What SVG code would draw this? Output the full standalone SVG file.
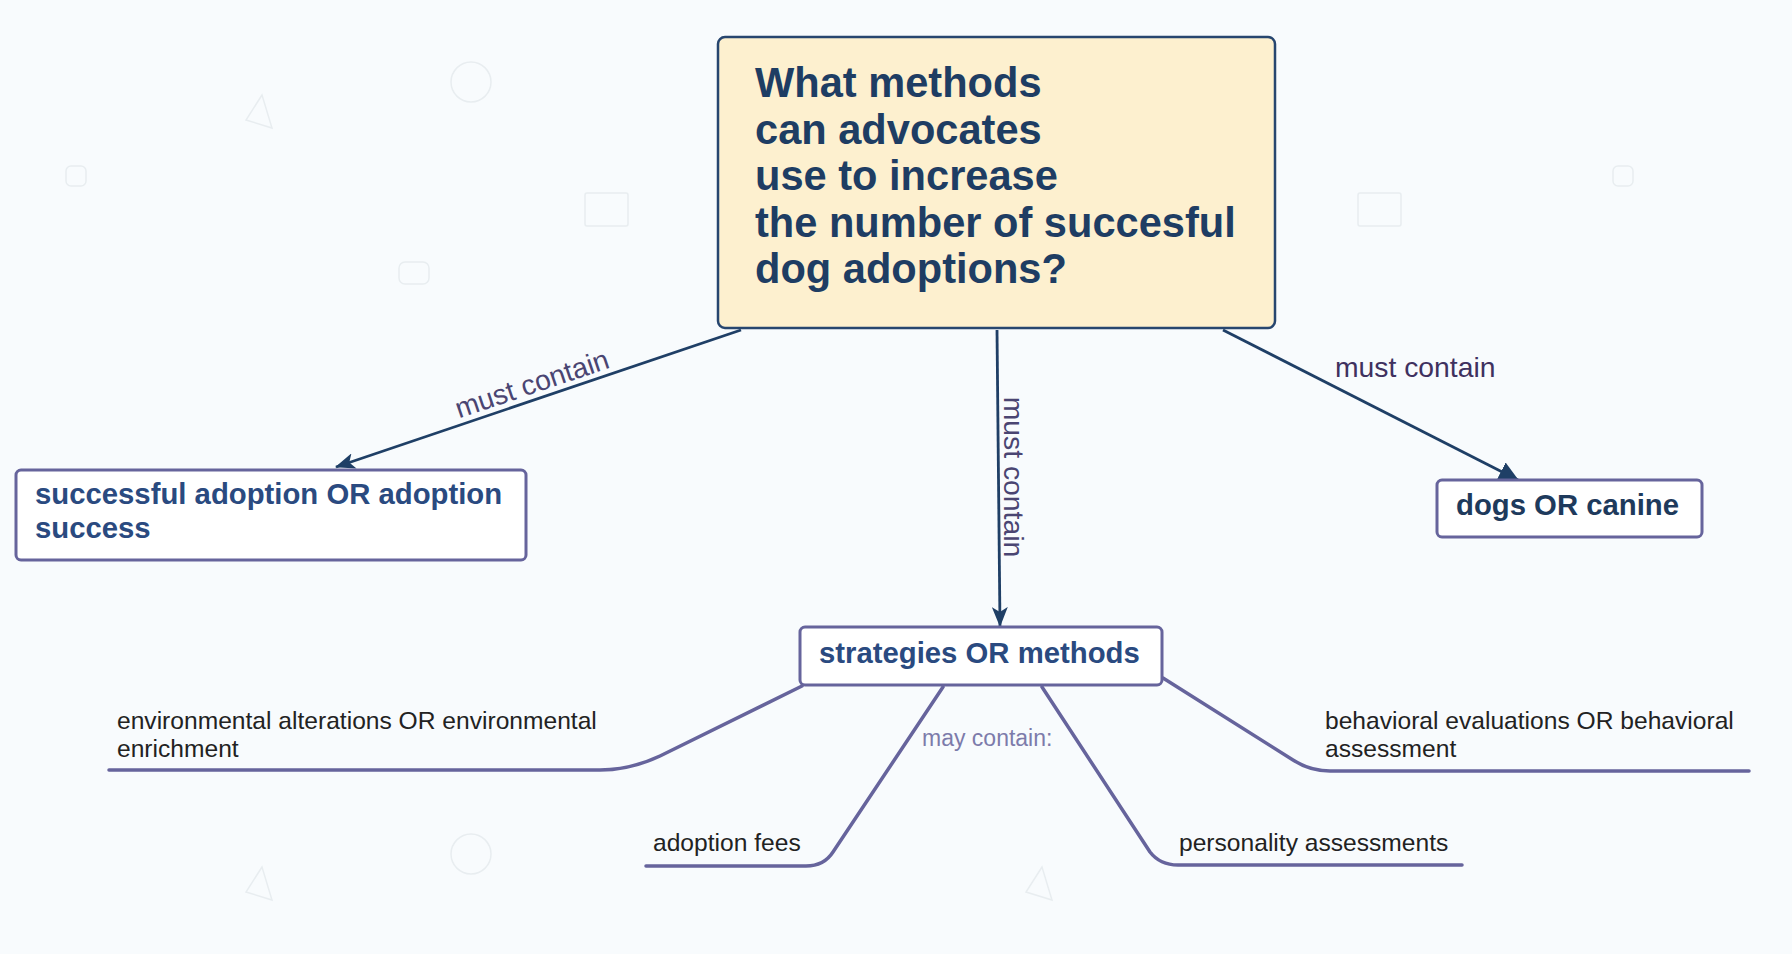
<svg xmlns="http://www.w3.org/2000/svg" width="1792" height="954" viewBox="0 0 1792 954">
<style>
.bg{fill:#f8fbfd}
.main{fill:#fdf0cf;stroke:#27466f;stroke-width:2.5}
.node{fill:#ffffff;stroke:#66649c;stroke-width:3}
.t-main{font-family:"Liberation Sans",Arial,sans-serif;font-weight:bold;font-size:41.6px;fill:#1e3d63}
.t-node{font-family:"Liberation Sans",Arial,sans-serif;font-weight:bold;font-size:29.3px;fill:#2a4a80}
.t-item{font-family:"Liberation Sans",Arial,sans-serif;font-size:24.6px;fill:#222222}
.t-lab{font-family:"Liberation Sans",Arial,sans-serif;font-size:28.3px;fill:#4a4572}
.t-may{font-family:"Liberation Sans",Arial,sans-serif;font-size:23px;fill:#7d7bab}
.edge{fill:none;stroke:#1f3f66;stroke-width:2.8}
.branch{fill:none;stroke:#66649c;stroke-width:3.5;stroke-linecap:round;stroke-linejoin:round}
.deco{fill:none;stroke:#e8edf0;stroke-width:1.5}
</style>
<defs>
<marker id="arr" viewBox="0 0 20 16" refX="19" refY="8" markerWidth="20" markerHeight="16" markerUnits="userSpaceOnUse" orient="auto">
<path d="M0,0 L20,8 L0,16 L5,8 Z" fill="#1f3f66"/>
</marker>
<marker id="tri" viewBox="0 0 20 20" refX="19" refY="10" markerWidth="20" markerHeight="20" markerUnits="userSpaceOnUse" orient="auto">
<path d="M0,0 L20,10 L0,20 Z" fill="#1f3f66"/>
</marker>
</defs>
<rect class="bg" x="0" y="0" width="1792" height="954"/>
<g id="background">
<circle class="deco" cx="471" cy="82" r="20"/>
<circle class="deco" cx="471" cy="854" r="20"/>
<rect class="deco" x="585" y="193" width="43" height="33" rx="2"/>
<rect class="deco" x="1358" y="193" width="43" height="33" rx="2"/>
<rect class="deco" x="399" y="262" width="30" height="22" rx="6"/>
<rect class="deco" x="66" y="166" width="20" height="20" rx="5"/>
<rect class="deco" x="1613" y="166" width="20" height="20" rx="5"/>
<path class="deco" d="M262,95 L246,120 L272,128 Z"/>
<path class="deco" d="M262,867 L246,892 L272,900 Z"/>
<path class="deco" d="M1042,867 L1026,892 L1052,900 Z"/>
</g>
<g id="connectors">
<line class="edge" x1="741" y1="330" x2="336" y2="467" marker-end="url(#arr)"/>
<text class="t-lab" transform="translate(535,393) rotate(-18.6)" text-anchor="middle">must contain</text>
<line class="edge" x1="997" y1="330" x2="1000" y2="626" marker-end="url(#arr)"/>
<text class="t-lab" transform="translate(1004,477) rotate(90)" text-anchor="middle">must contain</text>
<line class="edge" x1="1223" y1="330" x2="1518" y2="480" marker-end="url(#tri)"/>
<text class="t-lab" x="1335" y="377" style="fill:#3f315f">must contain</text>
<path class="branch" d="M802,686 L660,756 Q630,770 600,770 L109,770"/>
<path class="branch" d="M943,687 L833,852 Q824,866 806,866 L646,866"/>
<path class="branch" d="M1042,687 L1150,852 Q1160,865 1178,865 L1462,865"/>
<path class="branch" d="M1163,678 L1293,760 Q1310,771 1330,771 L1749,771"/>
<text class="t-may" x="922" y="746">may contain:</text>
</g>
<g id="node-main">
<rect class="main" x="718" y="37" width="557" height="291" rx="7"/>
<text class="t-main" x="755" y="97">What methods</text>
<text class="t-main" x="755" y="144">can advocates</text>
<text class="t-main" x="755" y="190">use to increase</text>
<text class="t-main" x="755" y="237">the number of succesful</text>
<text class="t-main" x="755" y="283">dog adoptions?</text>
</g>
<g id="node-success">
<rect class="node" x="16" y="470" width="510" height="90" rx="5"/>
<text class="t-node" x="35" y="504">successful adoption OR adoption</text>
<text class="t-node" x="35" y="538">success</text>
</g>
<g id="node-dogs">
<rect class="node" x="1437" y="480" width="265" height="57" rx="5"/>
<text class="t-node" x="1456" y="515" style="fill:#1e3a5c">dogs OR canine</text>
</g>
<g id="node-strategies">
<rect class="node" x="800" y="627" width="362" height="58" rx="5"/>
<text class="t-node" x="819" y="663">strategies OR methods</text>
</g>
<g id="item-environment">
<text class="t-item" x="117" y="729">environmental alterations OR environmental</text>
<text class="t-item" x="117" y="757">enrichment</text>
</g>
<g id="item-fees">
<text class="t-item" x="653" y="851">adoption fees</text>
</g>
<g id="item-personality">
<text class="t-item" x="1179" y="851">personality assessments</text>
</g>
<g id="item-behavioral">
<text class="t-item" x="1325" y="729">behavioral evaluations OR behavioral</text>
<text class="t-item" x="1325" y="757">assessment</text>
</g>
</svg>
